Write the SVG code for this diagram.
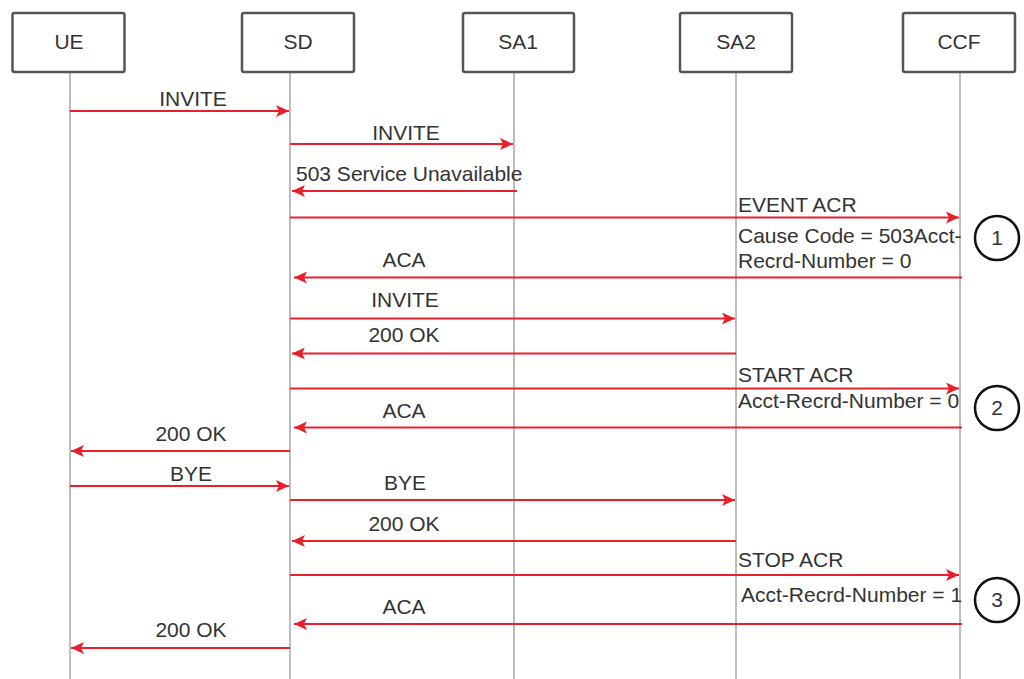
<svg xmlns="http://www.w3.org/2000/svg" width="1024" height="679" viewBox="0 0 1024 679">
<style>
.box{fill:#fff;stroke:#555;stroke-width:2.5}
.life{stroke:#bdbdbd;stroke-width:2}
.msg{stroke:#e8202c;stroke-width:2;fill:none;marker-end:url(#ah)}
text{font-family:"Liberation Sans",Arial,sans-serif;font-size:21px;fill:#333}
.c{text-anchor:middle}
.num{fill:#fff;stroke:#111;stroke-width:2.5}
</style>
<defs>
<marker id="ah" markerUnits="userSpaceOnUse" viewBox="0 0 13 12" markerWidth="13" markerHeight="12" refX="13" refY="6" orient="auto">
<path d="M0,0 L13,6 L0,12 L3,6 z" fill="#e8202c"/>
</marker>
</defs>
<rect width="1024" height="679" fill="#fff"/>
<g id="lifelines">
<line class="life" x1="70" y1="72" x2="70" y2="679"/>
<line class="life" x1="290" y1="72" x2="290" y2="679"/>
<line class="life" x1="514" y1="72" x2="514" y2="679"/>
<line class="life" x1="736" y1="72" x2="736" y2="679"/>
<line class="life" x1="960" y1="72" x2="960" y2="679"/>
</g>
<g id="UE"><rect class="box" x="12.5" y="13" width="112" height="59" rx="2"/><text class="c" x="69" y="49">UE</text></g>
<g id="SD"><rect class="box" x="242" y="13" width="112" height="59" rx="2"/><text class="c" x="298" y="49">SD</text></g>
<g id="SA1"><rect class="box" x="463" y="13" width="111" height="59" rx="2"/><text class="c" x="518" y="49">SA1</text></g>
<g id="SA2"><rect class="box" x="680" y="13" width="112" height="59" rx="2"/><text class="c" x="736" y="49">SA2</text></g>
<g id="CCF"><rect class="box" x="903" y="13" width="112" height="59" rx="2"/><text class="c" x="959" y="49">CCF</text></g>
<g id="connectors">
<line class="msg" x1="70" y1="111" x2="289" y2="111"/>
<line class="msg" x1="290" y1="144" x2="513" y2="144"/>
<line class="msg" x1="517" y1="191" x2="292" y2="191"/>
<line class="msg" x1="290" y1="217.5" x2="959" y2="217.5"/>
<line class="msg" x1="962" y1="277.5" x2="294" y2="277.5"/>
<line class="msg" x1="290" y1="318.5" x2="735" y2="318.5"/>
<line class="msg" x1="736" y1="353.5" x2="292" y2="353.5"/>
<line class="msg" x1="290" y1="388.5" x2="959" y2="388.5"/>
<line class="msg" x1="962" y1="427.5" x2="294" y2="427.5"/>
<line class="msg" x1="290" y1="451" x2="71" y2="451"/>
<line class="msg" x1="70" y1="486" x2="289" y2="486"/>
<line class="msg" x1="290" y1="500" x2="735" y2="500"/>
<line class="msg" x1="736" y1="541" x2="292" y2="541"/>
<line class="msg" x1="290" y1="575" x2="959" y2="575"/>
<line class="msg" x1="962" y1="624" x2="294" y2="624"/>
<line class="msg" x1="290" y1="648" x2="71" y2="648"/>
</g>
<g id="labels">
<text class="c" x="193" y="106">INVITE</text>
<text class="c" x="406" y="140">INVITE</text>
<text x="296" y="181">503 Service Unavailable</text>
<text x="738" y="212">EVENT ACR</text>
<text x="738" y="243">Cause Code = 503Acct-</text>
<text x="738" y="268">Recrd-Number = 0</text>
<text class="c" x="404" y="267">ACA</text>
<text class="c" x="405" y="307">INVITE</text>
<text class="c" x="404" y="342">200 OK</text>
<text x="738" y="382">START ACR</text>
<text x="738" y="408">Acct-Recrd-Number = 0</text>
<text class="c" x="404" y="418">ACA</text>
<text class="c" x="191" y="441">200 OK</text>
<text class="c" x="191" y="481">BYE</text>
<text class="c" x="405" y="490">BYE</text>
<text class="c" x="404" y="531">200 OK</text>
<text x="738" y="567">STOP ACR</text>
<text x="741" y="602">Acct-Recrd-Number = 1</text>
<text class="c" x="404" y="614">ACA</text>
<text class="c" x="191" y="637">200 OK</text>
</g>
<g id="note1"><circle class="num" cx="997" cy="238" r="22"/><text class="c" x="997" y="245">1</text></g>
<g id="note2"><circle class="num" cx="997" cy="408" r="22"/><text class="c" x="997" y="415">2</text></g>
<g id="note3"><circle class="num" cx="997" cy="600" r="22"/><text class="c" x="997" y="607">3</text></g>
</svg>
